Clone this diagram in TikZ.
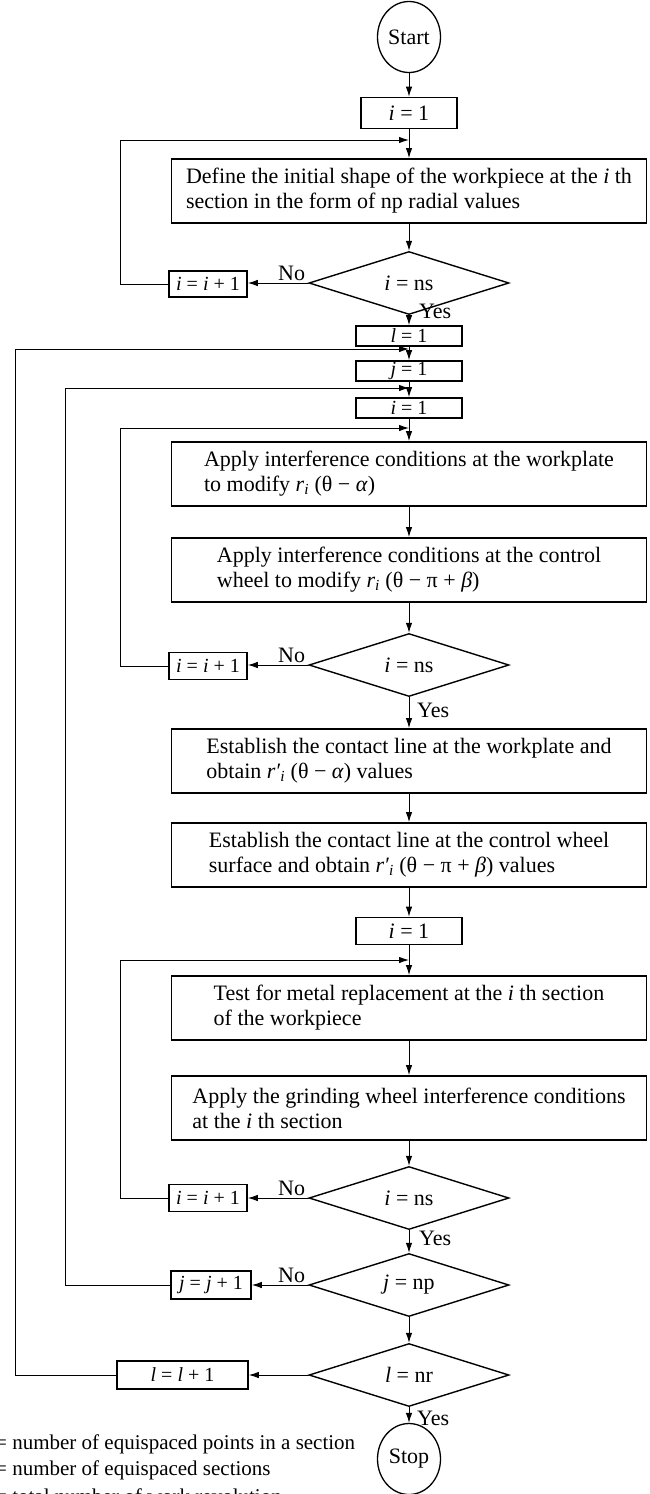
\documentclass[tikz,border=0pt]{standalone}
\usepackage{fontspec}
\setmainfont{Liberation Serif}
\usetikzlibrary{arrows.meta, calc, shapes.geometric}
\newcommand{\rsub}{\textit{r}\textsubscript{\textit{i}}}
\newcommand{\rprm}{\textit{r}\kern1pt′\kern-1pt\textsubscript{\textit{i}}}

\begin{document}
\begin{tikzpicture}[x=1pt, y=-1pt, >={Latex[length=10pt,width=6.5pt]},
  font=\fontsize{22}{25}\selectfont, line cap=round,
  taskbox/.style={draw, line width=1.8pt, minimum width=475pt, minimum height=64pt, align=left, inner sep=3pt},
  countbox/.style={draw, line width=1.6pt, inner sep=0pt, font=\fontsize{20}{22}\selectfont},
  decide/.style={diamond, draw, line width=1.4pt, aspect=3.2, inner sep=0pt, minimum width=200pt, minimum height=63pt},
  terminal/.style={ellipse, draw, line width=1.3pt, inner sep=0pt, minimum width=63pt, minimum height=71pt},
  flow/.style={->, line width=1pt}]
  \def\mx{409}
  \useasboundingbox (0,0) rectangle (649,1494);

  % rails of the loop-back lines
  \coordinate (railL) at (15,0);
  \coordinate (railJ) at (65,0);
  \coordinate (railI) at (120,0);

  % initial shape of every section
  \node[terminal] (start) at (\mx,37) {Start};
  \node[countbox, minimum width=96pt, minimum height=31pt, font=\fontsize{22}{25}\selectfont] (init) at (\mx,113) {\textit{i} = 1};
  \coordinate (m1) at (\mx,140);
  \node[taskbox] (shape) at (\mx,191)
    {Define the initial shape of the workpiece at the \textit{i} th\\section in the form of np radial values};
  \node[decide] (dec1) at (\mx,283) {\textit{i} = ns};
  \node[countbox, minimum width=78pt, minimum height=26pt] (inc1) at (208,284) {\textit{i} = \textit{i} + 1};

  % counters l, j, i
  \node[countbox, minimum width=106pt, minimum height=20pt] (lbox) at (\mx,336) {\textit{l} = 1};
  \coordinate (m2) at (\mx,349);
  \node[countbox, minimum width=106pt, minimum height=20pt] (jbox) at (\mx,371) {\textit{j} = 1};
  \coordinate (m3) at (\mx,388);
  \node[countbox, minimum width=106pt, minimum height=20pt] (ibox) at (\mx,408) {\textit{i} = 1};
  \coordinate (m4) at (\mx,428);

  % interference at workplate and control wheel
  \node[taskbox] (plate) at (\mx,474)
    {Apply interference conditions at the workplate\\to modify \rsub\ (θ − \textit{α})};
  \node[taskbox] (wheel) at (\mx,570)
    {Apply interference conditions at the control\\wheel to modify \rsub\ (θ − π + \textit{β})};
  \node[decide] (dec2) at (\mx,665) {\textit{i} = ns};
  \node[countbox, minimum width=78pt, minimum height=27pt] (inc2) at (208,666) {\textit{i} = \textit{i} + 1};

  % contact lines
  \node[taskbox] (cplate) at (\mx,761)
    {Establish the contact line at the workplate and\\obtain \rprm\ (θ − \textit{α}) values};
  \node[taskbox] (cwheel) at (\mx,855)
    {Establish the contact line at the control wheel\\surface and obtain \rprm\ (θ − π + \textit{β}) values};
  \node[countbox, minimum width=106pt, minimum height=27pt, font=\fontsize{22}{25}\selectfont] (ibox2) at (\mx,931) {\textit{i} = 1};
  \coordinate (m5) at (\mx,960);

  % metal removal and grinding wheel
  \node[taskbox] (metal) at (\mx,1008)
    {Test for metal replacement at the \textit{i} th section\\of the workpiece};
  \node[taskbox] (grind) at (\mx,1108)
    {Apply the grinding wheel interference conditions\\at the \textit{i} th section};
  \node[decide] (dec3) at (\mx,1198) {\textit{i} = ns};
  \node[countbox, minimum width=78pt, minimum height=27pt] (inc3) at (208,1198) {\textit{i} = \textit{i} + 1};
  \node[decide] (dec4) at (\mx,1285) {\textit{j} = np};
  \node[countbox, minimum width=80pt, minimum height=28pt] (incj) at (211,1285) {\textit{j} = \textit{j} + 1};
  \node[decide] (dec5) at (\mx,1375) {\textit{l} = nr};
  \node[countbox, minimum width=131pt, minimum height=28pt] (incl) at (182.5,1375) {\textit{l} = \textit{l} + 1};
  \node[terminal] (stop) at (\mx,1459) {Stop};

  % main flow
  \draw[flow] (start) -- (init);
  \draw[flow] (init) -- (shape);
  \draw[flow] (shape) -- (dec1);
  \draw[flow] (dec1) -- (lbox);
  \draw[flow] (lbox) -- (jbox);
  \draw[flow] (jbox) -- (ibox);
  \draw[flow] (ibox) -- (plate);
  \draw[flow] (plate) -- (wheel);
  \draw[flow] (wheel) -- (dec2);
  \draw[flow] (dec2) -- (cplate);
  \draw[flow] (cplate) -- (cwheel);
  \draw[flow] (cwheel) -- (ibox2);
  \draw[flow] (ibox2) -- (metal);
  \draw[flow] (metal) -- (grind);
  \draw[flow] (grind) -- (dec3);
  \draw[flow] (dec3) -- (dec4);
  \draw[flow] (dec4) -- (dec5);
  \draw[flow] (dec5) -- (stop);

  % "No" branches and loop-backs
  \draw[flow] (dec1.west) -- (dec1.west -| inc1.east);
  \draw[flow] (inc1.west) -- (inc1.west -| railI) |- (m1);
  \draw[flow] (dec2.west) -- (dec2.west -| inc2.east);
  \draw[flow] (inc2.west) -- (inc2.west -| railI) |- (m4);
  \draw[flow] (dec3.west) -- (dec3.west -| inc3.east);
  \draw[flow] (inc3.west) -- (inc3.west -| railI) |- (m5);
  \draw[flow] (dec4.west) -- (dec4.west -| incj.east);
  \draw[flow] (incj.west) -- (incj.west -| railJ) |- (m3);
  \draw[flow] (dec5.west) -- (dec5.west -| incl.east);
  \draw[flow] (incl.west) -- (incl.west -| railL) |- (m2);

  % branch labels
  \node[anchor=south east, inner sep=0pt] (no1) at ($(dec1.west)+(-3,-2)$) {No};
  \node[anchor=south east, inner sep=0pt] (no2) at ($(dec2.west)+(-3,-2)$) {No};
  \node[anchor=south east, inner sep=0pt] (no3) at ($(dec3.west)+(-3,-2)$) {No};
  \node[anchor=south east, inner sep=0pt] (no4) at ($(dec4.west)+(-3,-2)$) {No};
  \node[anchor=west, inner sep=0pt] (yes1) at ($(dec1.south)+(10,-4)$) {Yes};
  \node[anchor=west, inner sep=0pt] (yes2) at ($(dec2.south)+(8,13)$) {Yes};
  \node[anchor=west, inner sep=0pt] (yes3) at ($(dec3.south)+(10,8)$) {Yes};
  \node[anchor=west, inner sep=0pt] (yes5) at ($(dec5.south)+(8,11)$) {Yes};

  % key
  \node[anchor=base west, inner sep=0pt, font=\fontsize{21}{25}\selectfont] (key1) at (-5,1449) {= number of equispaced points in a section};
  \node[anchor=base west, inner sep=0pt, font=\fontsize{21}{25}\selectfont] (key2) at (-5,1475) {= number of equispaced sections};
  \node[anchor=base west, inner sep=0pt, font=\fontsize{21}{25}\selectfont] (key3) at (-5,1503) {= total number of work revolution};
\end{tikzpicture}
\end{document}
